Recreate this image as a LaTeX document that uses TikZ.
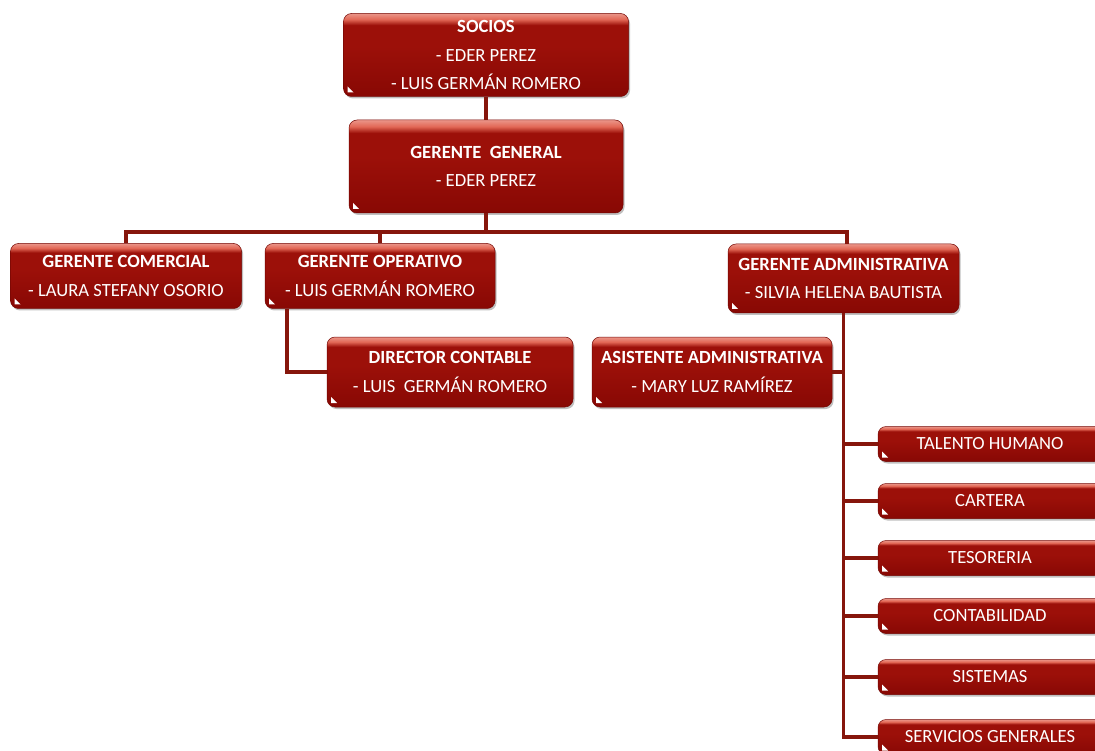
\documentclass[tikz,border=0pt]{standalone}
\usepackage{fontspec}
\setmainfont{Carlito}
\usetikzlibrary{shadows}

\definecolor{boxdark}{RGB}{136,8,4}
\definecolor{boxbody}{RGB}{156,16,9}
\definecolor{boxlight}{RGB}{226,104,86}
\definecolor{wire}{RGB}{134,22,12}

% glossy red fill: dark body, bright band along the top edge
\pgfdeclareverticalshading{gloss}{100bp}{%
  color(0bp)=(boxdark); color(25bp)=(boxdark); color(55bp)=(boxbody);
  color(68bp)=(boxbody); color(71.5bp)=(boxlight); color(75bp)=(boxlight!70!white);
  color(100bp)=(boxlight!70!white)}

\tikzset{
  orgbox/.style={rounded corners=8pt, shading=gloss, draw=boxdark!85!black,
    line width=0.5pt, text=white, align=center,
    font=\fontsize{18.6}{28.5}\selectfont, inner sep=0pt,
    drop shadow={shadow xshift=1.5pt, shadow yshift=-2pt, opacity=0.35, fill=black!70},
    path picture={\fill[white, sharp corners]
      ([xshift=4pt,yshift=4pt]path picture bounding box.south west)
      -- ++(0pt,6pt) -- ++(6pt,-6pt) -- cycle;}},
  unitbox/.style={orgbox, minimum width=224pt, minimum height=35pt},
  wirel/.style={draw=wire, line width=3.4pt}
}

\begin{document}
\begin{tikzpicture}[x=1pt, y=-1pt]
\useasboundingbox (0,0) rectangle (1095,751);
\fill[white] (0,0) rectangle (1095,751);
\clip (0,0) rectangle (1095,751);

% top of the chart
\node[orgbox, minimum width=285pt, minimum height=83pt] (soc) at (486,55)
  {\textbf{SOCIOS}\\- EDER PEREZ\\- LUIS GERMÁN ROMERO};
\node[orgbox, minimum width=274pt, minimum height=93pt] (gg) at (486,166.5)
  {\textbf{GERENTE\ \ GENERAL}\\- EDER PEREZ};

% managers
\node[orgbox, minimum width=231pt, minimum height=65pt] (gc) at (126,276)
  {\textbf{GERENTE COMERCIAL}\\- LAURA STEFANY OSORIO};
\node[orgbox, minimum width=230pt, minimum height=65pt] (go) at (380,276)
  {\textbf{GERENTE OPERATIVO}\\- LUIS GERMÁN ROMERO};
\node[orgbox, minimum width=231pt, minimum height=69pt] (ga) at (843.5,278.5)
  {\textbf{GERENTE ADMINISTRATIVA}\\- SILVIA HELENA BAUTISTA};

% second level
\node[orgbox, minimum width=246pt, minimum height=70pt] (dc) at (450,372)
  {\textbf{DIRECTOR CONTABLE}\\- LUIS\ \ GERMÁN ROMERO};
\node[orgbox, minimum width=240pt, minimum height=70pt] (aa) at (712,372)
  {\textbf{ASISTENTE ADMINISTRATIVA}\\- MARY LUZ RAMÍREZ};

% administrative units
\node[unitbox] (th) at (990,444) {TALENTO HUMANO};
\node[unitbox] (ca) at (990,501) {CARTERA};
\node[unitbox] (te) at (990,558) {TESORERIA};
\node[unitbox] (co) at (990,616) {CONTABILIDAD};
\node[unitbox] (si) at (990,677) {SISTEMAS};
\node[unitbox] (sg) at (990,737) {SERVICIOS GENERALES};

% connectors
\coordinate (bus) at (486,232);
\draw[wirel] (soc.south) -- (gg.north);
\draw[wirel] (gg.south) -- (bus);
\draw[wirel] (bus) -| (gc.north);
\draw[wirel] (bus) -| (go.north);
\draw[wirel] (bus) -| ([xshift=3.5pt]ga.north);
\draw[wirel] ([xshift=-93pt]go.south) |- (dc.west);
\draw[wirel] (ga.south) |- (sg.west);
\foreach \u in {th,ca,te,co,si}
  \draw[wirel] (ga.south |- \u.west) -- (\u.west);
\draw[wirel] (aa.east) -- (aa.east -| ga.south);
\end{tikzpicture}
\end{document}
